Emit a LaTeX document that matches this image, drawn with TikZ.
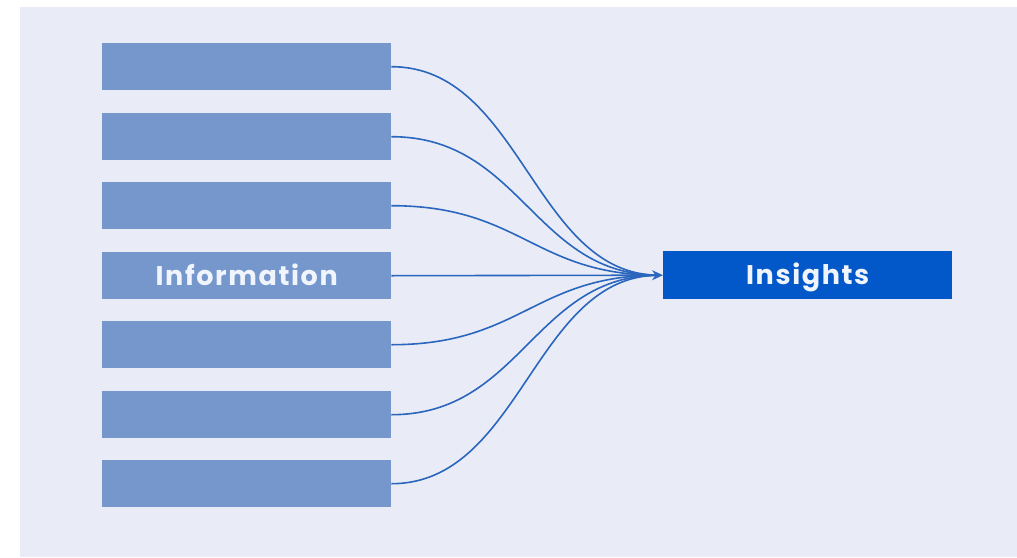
\documentclass[tikz,border=0pt]{standalone}
\usepackage{fontspec}
\setmainfont{Poppins}[LetterSpace=6]
\usetikzlibrary{arrows.meta}
\definecolor{bg}{HTML}{E9ECF7}
\definecolor{infobox}{HTML}{7597CC}
\definecolor{insbox}{HTML}{0258C8}
\definecolor{link}{HTML}{2A66BE}
\definecolor{txt}{HTML}{F0F4FC}
\tikzset{
  infobox/.style={fill=infobox, draw=none, minimum width=289pt, minimum height=47pt, inner sep=0pt, anchor=north west},
  insbox/.style={fill=insbox, draw=none, minimum width=289pt, minimum height=48pt, inner sep=0pt, anchor=north west},
  lbl/.style={font=\bfseries\fontsize{27pt}{30pt}\selectfont, text=txt, text height=19pt, text depth=0pt},
  link/.style={draw=link, line width=1.6pt},
}
\begin{document}
\begin{tikzpicture}[x=1pt,y=-1pt]
\useasboundingbox (0,0) rectangle (1017,557);
\fill[white] (0,0) rectangle (1017,557);
\fill[bg] (20,7) rectangle (1017,557);
\foreach \i/\y in {1/43,2/113,3/182,5/321,6/391,7/460} {
  \node[infobox] (b\i) at (102,\y) {};
}
\node[infobox, lbl] (b4) at (102,252) {Information};
\node[insbox, lbl] (ins) at (663,251) {Insights};
\coordinate (tip) at ([xshift=-4pt]ins.west);
\foreach \i in {1,2,3,5,6,7} {
  \draw[link] (b\i.east) .. controls +(130,0) and ([xshift=-125pt]tip) .. (tip);
}
\draw[link, -{Stealth[length=11pt,width=10pt]}] (b4.east) -- (ins.west);
\end{tikzpicture}
\end{document}
